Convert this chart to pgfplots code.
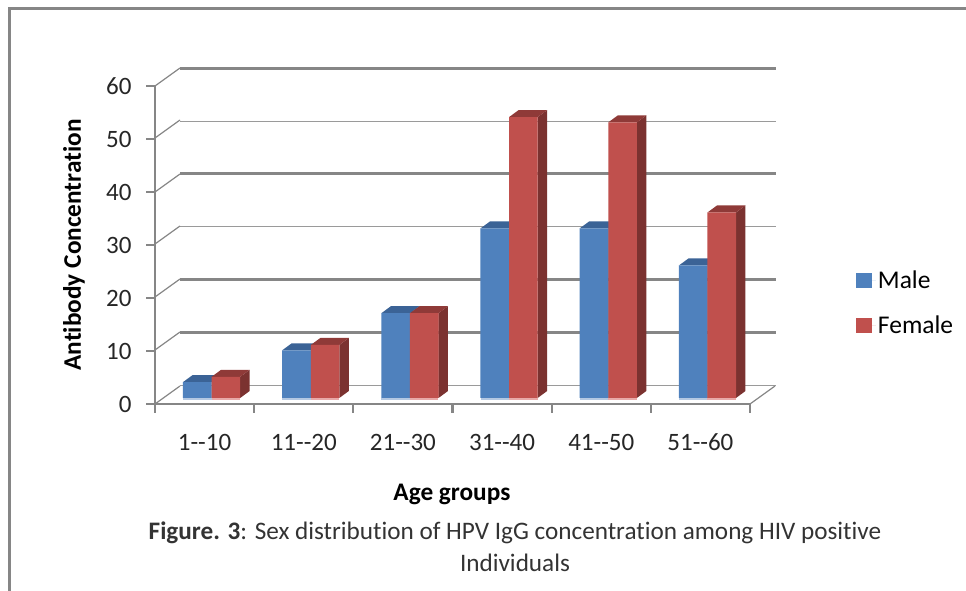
\documentclass[border=0pt]{standalone}
\usepackage{fontspec}
\setmainfont[Ligatures=NoCommon]{Carlito}
\usepackage{pgfplots}
\pgfplotsset{compat=1.18}
\definecolor{axgray}{HTML}{868686}
\definecolor{gridthin}{HTML}{9A9A9A}
\definecolor{mblue}{HTML}{4F81BD}
\definecolor{mred}{HTML}{C0504D}
\definecolor{tblue}{HTML}{3B6396}
\definecolor{sblue}{HTML}{355A88}
\definecolor{tred}{HTML}{8F3A38}
\definecolor{sred}{HTML}{7B3230}
\definecolor{lblue}{HTML}{B4C8E2}
\definecolor{lred}{HTML}{E8A9A8}
% x0, x1, value, top colour, side colour, light colour
\newcommand{\faces}[6]{%
  \pgfmathsetmacro\xa{#1+0.096}%
  \pgfmathsetmacro\xb{#2+0.096}%
  \pgfmathsetmacro\yt{#3+1.32}%
  \pgfmathsetmacro\yb{1.32}%
  \addplot[forget plot,draw=none,fill=#5] coordinates {(#2,0)(\xb,\yb)(\xb,\yt)(#2,#3)} --cycle;
  \addplot[forget plot,draw=none,fill=#4] coordinates {(#1,#3)(#2,#3)(\xb,\yt)(\xa,\yt)} --cycle;
  \addplot[forget plot,draw=none,fill=#6] coordinates {(#1,0)(#2,0)(#2,-0.42)(#1,-0.42)} --cycle;
}
\begin{document}
\begin{tikzpicture}[x=1pt,y=1pt,font=\fontsize{25}{29}\selectfont]
\useasboundingbox (0,0) rectangle (966,591);
% frame of the figure
\draw[axgray,line width=2.6pt] (9.5,0) -- (9.5,582.5) -- (966,582.5);
% back wall gridlines, one line for each 10 units of the scale
\draw[axgray,line width=2.6pt] (180,522.5) -- (775.6,522.5);
\draw[gridthin,line width=1.4pt] (180,469.5) -- (775.6,469.5);
\draw[axgray,line width=2.6pt] (180,417.5) -- (775.6,417.5);
\draw[gridthin,line width=1.4pt] (180,364.5) -- (775.6,364.5);
\draw[axgray,line width=2.6pt] (180,311.5) -- (775.6,311.5);
\draw[axgray,line width=2.6pt] (180,258.5) -- (775.6,258.5);
\draw[gridthin,line width=1.4pt] (180,205.5) -- (775.6,205.5);
% slanted floor and wall edges
\foreach \y in {404,350,297,244,192,138,86}{
  \draw[axgray,line width=1.2pt] (155,591-\y) -- (180,591-\y+18);
}
\draw[axgray,line width=1.2pt] (750,187) -- (775,205);
% front edges
\draw[axgray,line width=2.2pt] (155,505) -- (155,187) -- (750,187);
% front axis with the ticks and the labels
\begin{axis}[
  at={(155pt,187pt)},anchor=south west,scale only axis,
  width=595pt,height=318pt,
  xmin=0,xmax=6,ymin=0,ymax=60,
  axis x line*=bottom,axis y line*=left,
  axis line style={draw=none},
  major tick style={draw=axgray,line width=2.2pt},
  tick align=outside,major tick length=9pt,
  xtick={0,1,2,3,4,5,6},xticklabels={},
  extra x ticks={0.5,1.5,2.5,3.5,4.5,5.5},
  extra x tick labels={1-{}-10,11-{}-20,21-{}-30,31-{}-40,41-{}-50,51-{}-60},
  extra x tick style={major tick length=0pt,tick label style={yshift=-27pt,text height=16pt,text depth=0pt}},
  ytick={0,10,20,30,40,50,60},
  /pgf/number format/assume math mode=true,
  yticklabel style={xshift=-11pt},
  tick label style={black!85,font=\fontsize{25}{29}\selectfont},
  xlabel={\textbf{Age groups}},
  ylabel={\textbf{Antibody Concentration}},
  label style={font=\fontsize{25.3}{29}\selectfont},
  xlabel style={at={(axis description cs:0.499,-0.285)},anchor=center},
  ylabel style={at={(axis description cs:-0.136,0.5)},anchor=center},
]
\end{axis}
% bars
\begin{axis}[
  at={(162pt,193pt)},anchor=south west,scale only axis,
  width=595pt,height=318pt,
  xmin=0,xmax=6,ymin=0,ymax=60,
  hide axis,clip=false,
  legend cell align=left,
  legend style={at={(1.166,0.406)},anchor=north west,draw=none,fill=none,
    font=\fontsize{25.5}{29}\selectfont,row sep=22pt,inner sep=0pt},
]
\faces{0.212}{0.5}{3}{tblue}{sblue}{lblue}
\faces{1.212}{1.5}{9}{tblue}{sblue}{lblue}
\faces{2.212}{2.5}{16}{tblue}{sblue}{lblue}
\faces{3.212}{3.5}{32}{tblue}{sblue}{lblue}
\faces{4.212}{4.5}{32}{tblue}{sblue}{lblue}
\faces{5.212}{5.5}{25}{tblue}{sblue}{lblue}
\addplot[ybar,bar width=28.6pt,bar shift=-14.3pt,draw=none,fill=mblue,
  area legend,
  legend image code/.code={\fill[mblue] (0pt,-7.5pt) rectangle (16pt,7.5pt);\path (0pt,0pt) -- (20pt,0pt);}]
  coordinates {(0.5,3)(1.5,9)(2.5,16)(3.5,32)(4.5,32)(5.5,25)};
\addlegendentry{Male}
\faces{0.5}{0.788}{4}{tred}{sred}{lred}
\faces{1.5}{1.788}{10}{tred}{sred}{lred}
\faces{2.5}{2.788}{16}{tred}{sred}{lred}
\faces{3.5}{3.788}{53}{tred}{sred}{lred}
\faces{4.5}{4.788}{52}{tred}{sred}{lred}
\faces{5.5}{5.788}{35}{tred}{sred}{lred}
\addplot[ybar,bar width=28.6pt,bar shift=14.3pt,draw=none,fill=mred,
  area legend,
  legend image code/.code={\fill[mred] (0pt,-7.5pt) rectangle (16pt,7.5pt);\path (0pt,0pt) -- (20pt,0pt);}]
  coordinates {(0.5,4)(1.5,10)(2.5,16)(3.5,53)(4.5,52)(5.5,35)};
\addlegendentry{Female}
\end{axis}
% caption
\node[font=\fontsize{25.2}{29}\selectfont,text=black!80] at (515,591-533) {\textbf{Figure. 3}: Sex distribution of HPV IgG concentration among HIV positive};
\node[font=\fontsize{25.2}{29}\selectfont,text=black!80] at (515,591-563) {Individuals};
\end{tikzpicture}
\end{document}
